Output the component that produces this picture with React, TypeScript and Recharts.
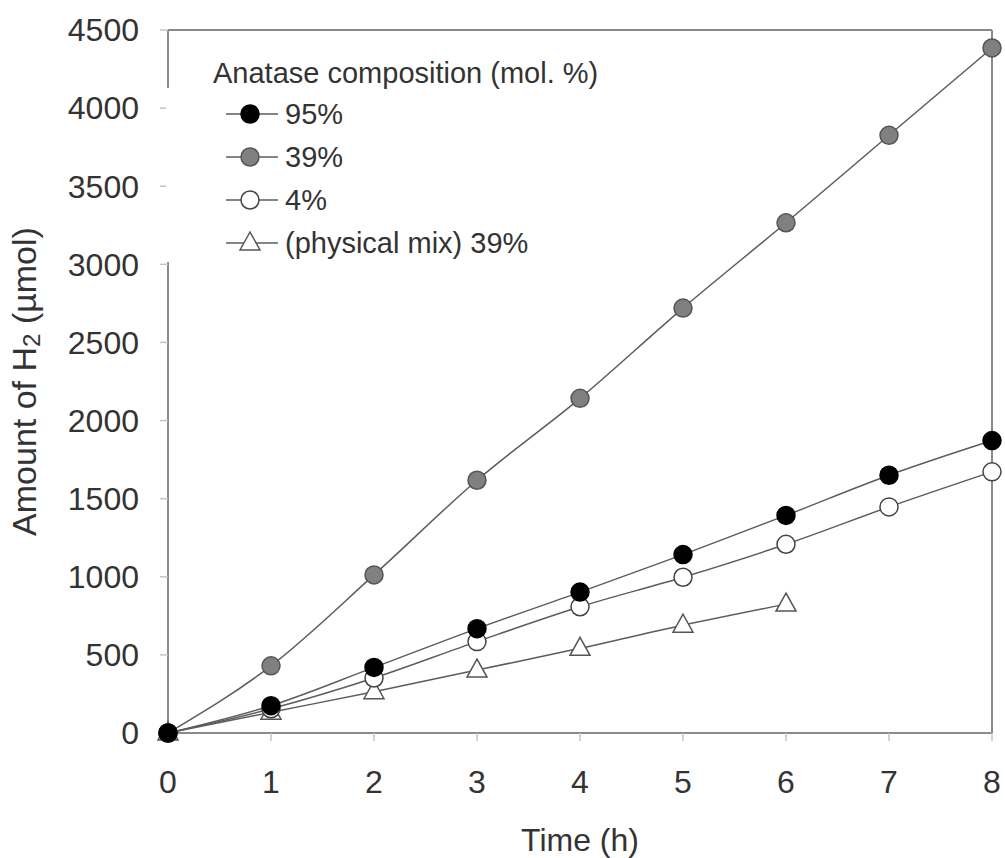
import React from "react";
import { LineChart, Line, XAxis, YAxis, ReferenceLine } from "recharts";

const times = [0, 1, 2, 3, 4, 5, 6, 7, 8];
const anatase95 = [0, 175, 420, 668, 902, 1142, 1393, 1650, 1872];
const anatase39 = [0, 430, 1012, 1618, 2142, 2720, 3266, 3826, 4385];
const anatase4 = [0, 155, 352, 585, 808, 997, 1208, 1447, 1672];
const physMix39 = [0, 133, 264, 403, 542, 690, 825];
const yTicks = [0, 500, 1000, 1500, 2000, 2500, 3000, 3500, 4000, 4500];
const legendTitle = "Anatase composition (mol. %)";
const seriesLabels = ["95%", "39%", "4%", "(physical mix) 39%"];

const data = times.map((t, i) => ({
  t,
  a95: anatase95[i],
  a39: anatase39[i],
  a4: anatase4[i],
  mix: i < physMix39.length ? physMix39[i] : null,
}));

const FONT = "'Liberation Sans', Arial, sans-serif";
const TEXT = "#333333";
const LINE = "#5c5c5c";
const AXIS = "#8a8a8a";
const TICK = "#c4c4c4";

const circleDot = (fill: string, stroke: string) => (props: any) => {
  const { cx, cy, index } = props;
  if (cx == null || cy == null || isNaN(cy)) return <g key={`e-${index}`} />;
  return <circle key={`c-${index}`} cx={cx} cy={cy} r={9} fill={fill} stroke={stroke} strokeWidth={1.5} />;
};

const triangleDot = (props: any) => {
  const { cx, cy, index } = props;
  if (cx == null || cy == null || isNaN(cy)) return <g key={`e-${index}`} />;
  const pts = `${cx},${cy - 11} ${cx - 10},${cy + 7} ${cx + 10},${cy + 7}`;
  return <polygon key={`t-${index}`} points={pts} fill="#ffffff" stroke="#555555" strokeWidth={1.5} />;
};

const markerSvg = [
  (cx: number, cy: number) => <circle cx={cx} cy={cy} r={9} fill="#000000" stroke="#000000" strokeWidth={1.5} />,
  (cx: number, cy: number) => <circle cx={cx} cy={cy} r={9} fill="#808080" stroke="#555555" strokeWidth={1.5} />,
  (cx: number, cy: number) => <circle cx={cx} cy={cy} r={9} fill="#ffffff" stroke="#444444" strokeWidth={1.5} />,
  (cx: number, cy: number) => (
    <polygon points={`${cx},${cy - 11} ${cx - 10},${cy + 7} ${cx + 10},${cy + 7}`} fill="#ffffff" stroke="#555555" strokeWidth={1.5} />
  ),
];

const YLabel = (props: any) => {
  const vb = props.viewBox || { x: 0, y: 30, width: 168, height: 703 };
  const x = vb.x + 24;
  const y = vb.y + vb.height / 2;
  return (
    <text
      x={x}
      y={y}
      transform={`rotate(-90, ${x}, ${y})`}
      textAnchor="middle"
      dominantBaseline="central"
      fontSize={34}
      fontFamily={FONT}
      fill={TEXT}
    >
      Amount of H
      <tspan fontSize={24} dy={7}>2</tspan>
      <tspan dy={-7}> (µmol)</tspan>
    </text>
  );
};

export default function App() {
  return (
    <div style={{ position: "relative", width: 1005, height: 858, background: "#ffffff", fontFamily: FONT }}>
      <style>{`html,body{margin:0;padding:0;overflow:hidden;}`}</style>
      <LineChart width={1005} height={858} data={data} margin={{ top: 30, right: 13, left: 0, bottom: 0 }}>
        <XAxis
          dataKey="t"
          type="number"
          domain={[0, 8]}
          ticks={times}
          height={125}
          axisLine={{ stroke: AXIS, strokeWidth: 2 }}
          tickLine={{ stroke: TICK, strokeWidth: 1.5 }}
          tickSize={8}
          tickMargin={29}
          tick={{ fontSize: 32, fill: TEXT, fontFamily: FONT }}
          label={{ value: "Time (h)", position: "insideBottom", offset: 7, fontSize: 32, fill: TEXT, fontFamily: FONT }}
        />
        <YAxis
          type="number"
          domain={[0, 4500]}
          ticks={yTicks}
          width={168}
          axisLine={{ stroke: AXIS, strokeWidth: 2 }}
          tickLine={{ stroke: TICK, strokeWidth: 1.5 }}
          tickSize={8}
          tickMargin={21}
          tick={{ fontSize: 32, fill: TEXT, fontFamily: FONT }}
          label={<YLabel />}
        />
        <ReferenceLine y={4500} stroke={AXIS} strokeWidth={2} />
        <ReferenceLine x={8} stroke={AXIS} strokeWidth={2} />
        <Line dataKey="mix" type="monotone" stroke={LINE} strokeWidth={1.5} dot={triangleDot} isAnimationActive={false} connectNulls={false} />
        <Line dataKey="a4" type="monotone" stroke={LINE} strokeWidth={1.5} dot={circleDot("#ffffff", "#444444")} isAnimationActive={false} />
        <Line dataKey="a39" type="monotone" stroke={LINE} strokeWidth={1.5} dot={circleDot("#808080", "#555555")} isAnimationActive={false} />
        <Line dataKey="a95" type="monotone" stroke={LINE} strokeWidth={1.5} dot={circleDot("#000000", "#000000")} isAnimationActive={false} />
      </LineChart>
      <div style={{ position: "absolute", left: 166, top: 88, width: 420, height: 174, background: "#ffffff" }} />
      <div
        style={{
          position: "absolute",
          left: 213,
          top: 56,
          lineHeight: "34px",
          fontSize: 29,
          color: TEXT,
          whiteSpace: "nowrap",
        }}
      >
        {legendTitle}
      </div>
      {seriesLabels.map((label, i) => {
        const top = 114 + i * 43 - 17;
        return (
          <div key={label} style={{ position: "absolute", left: 226, top, height: 34, display: "flex", alignItems: "center" }}>
            <svg width={54} height={34} style={{ display: "block" }}>
              <line x1={0} y1={17} x2={52} y2={17} stroke={LINE} strokeWidth={1.5} />
              {markerSvg[i](24, 17)}
            </svg>
            <span style={{ marginLeft: 5, fontSize: 29, lineHeight: "34px", color: TEXT, whiteSpace: "nowrap" }}>{label}</span>
          </div>
        );
      })}
    </div>
  );
}
